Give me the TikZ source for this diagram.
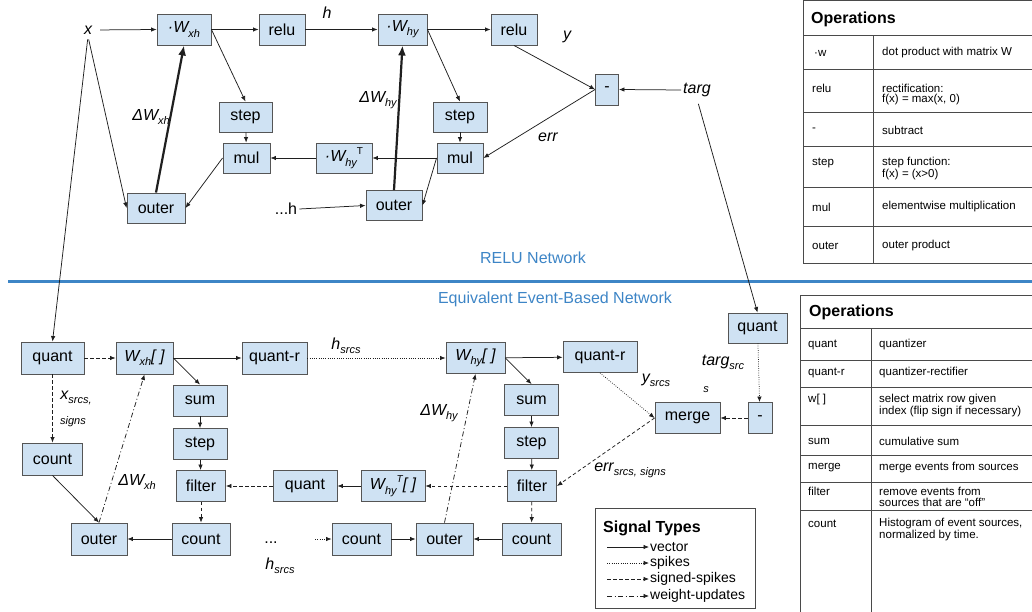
\documentclass[tikz,border=0pt]{standalone}
\usepackage{fontspec}
\setmainfont{Liberation Sans}
\usetikzlibrary{arrows.meta}
\definecolor{boxfill}{HTML}{CFE2F3}
\definecolor{boxline}{HTML}{555555}
\definecolor{sepblue}{HTML}{3D85C6}
\definecolor{ink}{HTML}{1F1F1F}
\definecolor{tabline}{HTML}{4A4A4A}
\newcommand\mysub[1]{\raisebox{-0.5ex}{\fontsize{11}{12}\selectfont #1}}
\newcommand\mysup[1]{\raisebox{0.9ex}{\fontsize{10}{11}\selectfont #1}}
\begin{document}
\begin{tikzpicture}[x=1pt,y=-1pt,
  box/.style={draw=boxline, fill=boxfill, line width=0.9pt, minimum height=31pt, inner sep=0pt, font=\fontsize{16}{19}\selectfont},
  lab/.style={inner sep=2pt, font=\fontsize{16}{19}\selectfont\itshape},
  sm/.style={inner sep=1pt, font=\fontsize{11}{13}\selectfont\itshape},
  vec/.style={draw=ink, line width=0.75pt, -{Latex[length=5.5pt,width=4.5pt]}},
  spk/.style={vec, dash pattern=on 0.75pt off 1.5pt},
  sgn/.style={vec, dash pattern=on 3.5pt off 2.5pt},
  wup/.style={vec, dash pattern=on 5pt off 2.5pt on 1pt off 2.5pt},
  heavy/.style={draw=ink, line width=2.2pt, -{Latex[length=10pt,width=8pt]}},
  tline/.style={draw=tabline, line width=1pt},
  ttext/.style={anchor=west, inner sep=0pt, font=\fontsize{11.5}{13}\selectfont},
  thead/.style={anchor=west, inner sep=0pt, font=\fontsize{16}{19}\selectfont\bfseries},
  litem/.style={anchor=west, inner sep=1pt, font=\fontsize{14}{16}\selectfont},
  title/.style={text=sepblue, inner sep=0pt, font=\fontsize{16}{19}\selectfont}
]
\useasboundingbox (0,0) rectangle (1032,612);

% ---------------- separator and titles
\draw[sepblue, line width=3pt] (8,281) -- (1032,281);
\node[title] (t1) at (533,258) {RELU Network};
\node[title] (t2) at (555,299) {Equivalent Event-Based Network};

% ---------------- top network
\node[lab] (xl) at (88,30) {x};
\node[box, minimum width=54pt] (Wxh) at (184,29.5) {\itshape ·W\mysub{xh}};
\node[box, minimum width=46pt] (relu1) at (282,29.5) {relu};
\node[lab] (hl) at (327,13) {h};
\node[box, minimum width=49pt] (Why) at (402.5,29.5) {\itshape ·W\mysub{hy}};
\node[box, minimum width=46pt] (relu2) at (514,29.5) {relu};
\node[lab] (yl) at (567,37) {y};
\node[box, minimum width=23pt] (minus1) at (607,89.5) {-};
\node[lab] (targ) at (697,90) {targ};
\node[lab] (errl) at (548,137) {err};
\node[box, minimum width=53pt, minimum height=30pt] (step1) at (245.5,117) {step};
\node[box, minimum width=47pt, minimum height=30pt] (mul1) at (246.5,158) {mul};
\node[box, minimum width=56pt, minimum height=30pt] (WhyT) at (344,158) {\itshape ·W\mysub{hy}\mysup{\upshape T}};
\node[box, minimum width=58pt, minimum height=30pt] (outer1) at (156,208) {outer};
\node[box, minimum width=54pt, minimum height=30pt] (step2) at (460,117) {step};
\node[box, minimum width=46pt, minimum height=30pt] (mul2) at (460,158) {mul};
\node[box, minimum width=56pt, minimum height=30pt] (outer2) at (394,205.5) {outer};
\node[lab] (dwxh) at (151,117) {ΔW\mysub{xh}};
\node[lab] (dwhy) at (378,100) {ΔW\mysub{hy}};
\node[lab, font=\fontsize{16}{19}\selectfont] (dotsh) at (286,209) {...h};

\draw[vec, shorten <=6pt] (xl.east) -- (Wxh.west);
\draw[vec, shorten <=3pt] (xl.south) -- (outer1.west);
\draw[vec] (Wxh) -- (relu1);
\draw[vec] (relu1) -- (Why);
\draw[vec] (Why) -- (relu2);
\draw[vec] (relu2.south) -- (minus1.west);
\draw[vec] (targ.west) -- (minus1.east);
\draw[vec] (minus1.west) -- (mul2.east);
\draw[vec] (Wxh.east) -- (step1.north);
\draw[vec] (Why.east) -- (step2.north);
\draw[vec] (step1) -- (mul1);
\draw[vec] (step2) -- (mul2);
\draw[vec] (WhyT) -- (mul1);
\draw[vec] (mul2) -- (WhyT);
\draw[vec] (mul1.west) -- (outer1.east);
\draw[vec] (mul2.west) -- (outer2.east);
\draw[heavy] (outer1.north) -- (Wxh.south);
\draw[heavy] (outer2.north) -- (Why.south);
\draw[vec] (dotsh.east) -- (outer2.west);

% ---------------- bottom network
\node[box, minimum width=63pt, minimum height=32pt] (quant1) at (52.5,358) {quant};
\node[box, minimum width=57pt, minimum height=32pt] (Wxh2) at (144.5,358) {\itshape W\mysub{xh}[ ]};
\node[box, minimum width=65pt, minimum height=32pt] (quantr1) at (274.5,358) {quant-r};
\node[box, minimum width=59pt] (Why2) at (475.5,358) {\itshape W\mysub{hy}[ ]};
\node[box, minimum width=74pt] (quantr2) at (600,357) {quant-r};
\node[box, minimum width=59pt, minimum height=30pt] (quant3) at (757.5,328) {quant};
\node[box, minimum width=60pt, minimum height=32pt] (count1) at (52.5,459) {count};
\node[box, minimum width=54pt] (sum1) at (200,400.5) {sum};
\node[box, minimum width=54pt] (step3) at (200,444) {step};
\node[box, minimum width=49pt] (filter1) at (201,486) {filter};
\node[box, minimum width=58pt, minimum height=32pt] (count2) at (201,539) {count};
\node[box, minimum width=56pt, minimum height=32pt] (outer3) at (99,539) {outer};
\node[box, minimum width=64pt] (quant4) at (305,486) {quant};
\node[box, minimum width=64pt] (WhyT2) at (393,486) {\itshape W\mysub{hy}\mysup{T}[ ]};
\node[box, minimum width=54pt] (sum2) at (531.5,400) {sum};
\node[box, minimum width=54pt] (step4) at (531.5,443) {step};
\node[box, minimum width=49pt] (filter2) at (532,486) {filter};
\node[box, minimum width=59pt, minimum height=32pt] (count4) at (531.5,539) {count};
\node[box, minimum width=57pt, minimum height=32pt] (outer4) at (444.5,539) {outer};
\node[box, minimum width=59pt, minimum height=32pt] (count3) at (361.5,539) {count};
\node[box, minimum width=65pt] (merge) at (687.5,418) {merge};
\node[box, minimum width=24pt] (minus2) at (760,418) {-};

\node[lab] (hsrcs) at (346,346) {h\mysub{srcs}};
\node[lab] (ysrcs) at (656,380) {y\mysub{srcs}};
\node[lab] (targsrc) at (723,362) {targ\mysub{src}};
\node[sm] (targs) at (706,390) {s};
\node[lab] (errs) at (630,470) {err\mysub{srcs, signs}};
\node[lab] (xsrcs) at (76,398) {x\mysub{srcs,}};
\node[sm] (signs) at (73,422) {signs};
\node[lab] (dwxh2) at (137,482) {ΔW\mysub{xh}};
\node[lab] (dwhy2) at (439,413) {ΔW\mysub{hy}};
\node[lab, font=\fontsize{16}{19}\selectfont] (dots2) at (271,543) {...};
\node[lab] (hsrcs2) at (280,566) {h\mysub{srcs}};
\coordinate (hin) at (315,539);

\draw[vec, shorten <=3pt] (xl.south) -- (quant1.north);
\draw[sgn] (quant1) -- (Wxh2);
\draw[vec] (Wxh2) -- (quantr1);
\draw[spk] (quantr1) -- (Why2);
\draw[vec] (Why2) -- (quantr2);
\draw[vec] (Wxh2.east) -- (sum1.north);
\draw[vec] (Why2.east) -- (sum2.north);
\draw[vec] (sum1) -- (step3);
\draw[vec] (step3) -- (filter1);
\draw[sgn] (filter1) -- (count2);
\draw[vec] (count2) -- (outer3);
\draw[sgn] (quant1) -- (count1);
\draw[vec] (count1.south) -- (outer3.north);
\draw[wup] (outer3.north) -- (Wxh2.south);
\draw[sgn] (quant4) -- (filter1);
\draw[vec] (WhyT2) -- (quant4);
\draw[sgn] (filter2) -- (WhyT2);
\draw[vec] (sum2) -- (step4);
\draw[vec] (step4) -- (filter2);
\draw[sgn] (filter2) -- (count4);
\draw[vec] (count4) -- (outer4);
\draw[vec] (count3) -- (outer4);
\draw[spk] (hin) -- (count3);
\draw[wup] (outer4.north) -- (Why2.south);
\draw[spk] (quantr2.south) -- (merge.west);
\draw[sgn] (merge.west) -- (filter2.east);
\draw[sgn] (minus2) -- (merge);
\draw[spk] (quant3) -- (minus2);
\draw[vec, shorten <=5pt] (targ.south) -- (quant3.north);

% ---------------- table 1
\draw[tline] (803,0.5) rectangle (1040,263);
\foreach \yy in {36,70,113,147,188,227} \draw[tline] (803,\yy) -- (1040,\yy);
\draw[tline] (873,36) -- (873,263);
\node[thead] (op1) at (811,19) {Operations};
\node[ttext] (a1) at (814,53) {·w};
\node[ttext] (b1) at (882,53) {dot product with matrix W};
\node[ttext] (a2) at (812,88) {relu};
\node[ttext] (b2) at (882,88) {rectification:};
\node[ttext] (c2) at (882,100) {f(x) = max(x, 0)};
\node[ttext] (a3) at (812,130) {-};
\node[ttext] (b3) at (882,130) {subtract};
\node[ttext] (a4) at (812,163) {step};
\node[ttext] (b4) at (882,163) {step function:};
\node[ttext] (c4) at (882,175) {f(x) = (x>0)};
\node[ttext] (a5) at (812,207) {mul};
\node[ttext] (b5) at (882,207) {elementwise multiplication};
\node[ttext] (a6) at (812,246) {outer};
\node[ttext] (b6) at (882,246) {outer product};

% ---------------- table 2
\draw[tline] (1040,295) -- (800,295) -- (800,620);
\foreach \yy in {328,360,387,425,455,482,510} \draw[tline] (800,\yy) -- (1040,\yy);
\draw[tline] (871,328) -- (871,620);
\node[thead] (op2) at (809,312) {Operations};
\node[ttext] (d1) at (808,345) {quant};
\node[ttext] (e1) at (879,345) {quantizer};
\node[ttext] (d2) at (808,373) {quant-r};
\node[ttext] (e2) at (879,373) {quantizer-rectifier};
\node[ttext] (d3) at (808,400) {w[ ]};
\node[ttext] (e3) at (879,400) {select matrix row given};
\node[ttext] (f3) at (879,412) {index (flip sign if necessary)};
\node[ttext] (d4) at (808,441) {sum};
\node[ttext] (e4) at (879,441) {cumulative sum};
\node[ttext] (d5) at (808,468) {merge};
\node[ttext] (e5) at (879,468) {merge events from sources};
\node[ttext] (d6) at (808,491) {filter};
\node[ttext] (e6) at (879,491) {remove events from};
\node[ttext] (f6) at (879,502) {sources that are “off”};
\node[ttext] (d7) at (808,524) {count};
\node[ttext] (e7) at (879,524) {Histogram of event sources,};
\node[ttext] (f7) at (879,536) {normalized by time.};

% ---------------- legend
\draw[tline] (595,508) rectangle (755,608);
\node[thead] (lgh) at (603,528) {Signal Types};
\coordinate (l1a) at (607,547); \coordinate (l1b) at (649,547);
\coordinate (l2a) at (607,563); \coordinate (l2b) at (649,563);
\coordinate (l3a) at (607,579); \coordinate (l3b) at (649,579);
\coordinate (l4a) at (607,596); \coordinate (l4b) at (649,596);
\draw[vec] (l1a) -- (l1b);
\draw[spk] (l2a) -- (l2b);
\draw[sgn] (l3a) -- (l3b);
\draw[wup] (l4a) -- (l4b);
\node[litem] (lt1) at (649,547) {vector};
\node[litem] (lt2) at (649,563) {spikes};
\node[litem] (lt3) at (649,579) {signed-spikes};
\node[litem] (lt4) at (649,596) {weight-updates};
\end{tikzpicture}
\end{document}
